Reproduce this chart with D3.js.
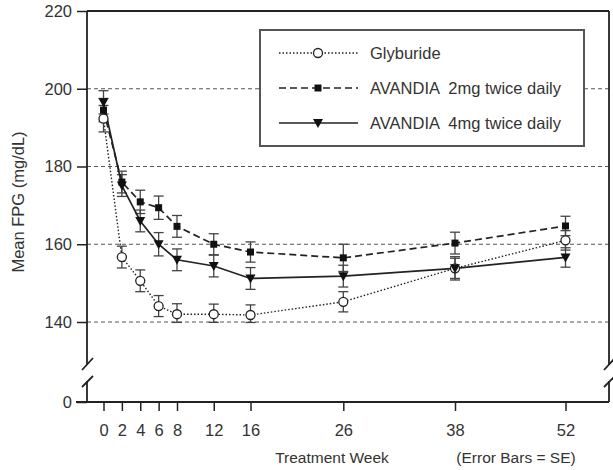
<!DOCTYPE html>
<html>
<head>
<meta charset="utf-8">
<script src="https://cdn.jsdelivr.net/npm/d3@7"></script>
<style>
  body { margin: 0; background: #fff; }
  text { font-family: "Liberation Sans", Arial, sans-serif; fill: #333; }
</style>
</head>
<body>
<svg id="chart" width="613" height="470"></svg>
<script>
// data
var weeks = [0, 2, 4, 6, 8, 12, 16, 26, 38, 52];
var glyburide = [192.3, 156.7, 150.6, 144.1, 142.0, 142.0, 141.8, 145.2, 153.8, 161.0];
var glySE     = [3.4, 2.8, 2.8, 2.7, 2.7, 2.6, 2.6, 2.6, 2.6, 2.5];
var avandia2  = [194.5, 176.0, 170.9, 169.4, 164.6, 160.0, 158.0, 156.5, 160.3, 164.7];
var av2SE     = [3.0, 2.8, 3.0, 3.0, 2.8, 2.7, 2.6, 3.5, 2.8, 2.5];
var avandia4  = [196.5, 175.1, 166.0, 160.0, 156.0, 154.4, 151.2, 151.8, 153.8, 156.6];
var av4SE     = [3.0, 2.8, 2.8, 3.0, 2.8, 2.8, 2.8, 2.8, 3.0, 2.5];
var yTicks = [0, 140, 160, 180, 200, 220];
var gridVals = [140, 160, 180, 200];
var legendNames = ["Glyburide", "AVANDIA  2mg twice daily", "AVANDIA  4mg twice daily"];

var svg = d3.select("#chart");
var plotL = 87, plotR = 609, plotT = 11, plotB = 402;  // "top" is taken by window
var ink = "#222";

// x spacing in the original is not quite uniform, so piecewise
var x = d3.scaleLinear().domain([0, 8, 16, 26, 38, 52]).range([103.5, 177, 250.5, 343.3, 455, 565.5]);
// broken y axis: 0 at the bottom, then 140..220
var y = d3.scaleLinear().domain([0, 140, 220]).range([plotB, 322, plotT]);

var series = [
  {name: legendNames[0], vals: glyburide, se: glySE, dash: "1.5,2", width: 1.4, marker: "circle"},
  {name: legendNames[1], vals: avandia2, se: av2SE, dash: "7,4", width: 1.7, marker: "square"},
  {name: legendNames[2], vals: avandia4, se: av4SE, dash: null, width: 1.7, marker: "tri"}
];

// grid
svg.selectAll("line.grid").data(gridVals).enter().append("line")
  .attr("class", "grid")
  .attr("x1", plotL).attr("x2", plotR)
  .attr("y1", function(d){ return y(d); }).attr("y2", function(d){ return y(d); })
  .attr("stroke", "#555").attr("stroke-width", 1).attr("stroke-dasharray", "4,3");

// axes
var yAxis = d3.axisLeft(y).tickValues(yTicks).tickSize(10).tickPadding(5);
var gy = svg.append("g").attr("transform", "translate(" + plotL + ",0)").call(yAxis);
gy.select(".domain").remove();
gy.selectAll(".tick line").attr("stroke", ink).attr("stroke-width", 1.5);
gy.selectAll(".tick text").style("font-size", "16.5px").attr("fill", "#333");

var xAxis = d3.axisBottom(x).tickValues(weeks).tickSize(9).tickPadding(13);
var gx = svg.append("g").attr("transform", "translate(0," + plotB + ")").call(xAxis);
gx.select(".domain").remove();
gx.selectAll(".tick line").attr("stroke", ink).attr("stroke-width", 1.5);
gx.selectAll(".tick text").style("font-size", "16.5px").attr("fill", "#333");

// frame with breaks
var frame = svg.append("g").attr("stroke", ink).attr("stroke-width", 1.8).attr("fill", "none");
frame.append("line").attr("x1", 76).attr("x2", plotR).attr("y1", plotB).attr("y2", plotB);
frame.append("line").attr("x1", plotL).attr("x2", plotR).attr("y1", plotT).attr("y2", plotT);
[plotL, plotR].forEach(function(px){
  frame.append("line").attr("x1", px).attr("x2", px).attr("y1", plotT).attr("y2", 365);
  frame.append("line").attr("x1", px).attr("x2", px).attr("y1", 381).attr("y2", plotB);
  frame.append("line").attr("x1", px - 5).attr("x2", px + 6).attr("y1", 370).attr("y2", 358);
  frame.append("line").attr("x1", px - 5).attr("x2", px + 6).attr("y1", 387).attr("y2", 376);
});

// error bars
series.forEach(function(s){
  var g = svg.append("g").attr("stroke", "#444").attr("stroke-width", 1.3);
  weeks.forEach(function(w, i){
    var hi = y(s.vals[i] + s.se[i]), lo = y(s.vals[i] - s.se[i]), cx = x(w);
    g.append("line").attr("x1", cx).attr("x2", cx).attr("y1", hi).attr("y2", lo);
    g.append("line").attr("x1", cx - 5).attr("x2", cx + 5).attr("y1", hi).attr("y2", hi);
    g.append("line").attr("x1", cx - 5).attr("x2", cx + 5).attr("y1", lo).attr("y2", lo);
  });
});

// lines
var line = d3.line().x(function(d){ return x(d[0]); }).y(function(d){ return y(d[1]); });
series.forEach(function(s){
  svg.append("path")
    .datum(weeks.map(function(w, i){ return [w, s.vals[i]]; }))
    .attr("d", line).attr("fill", "none")
    .attr("stroke", ink).attr("stroke-width", s.width)
    .attr("stroke-dasharray", s.dash);
});

function drawMarker(g, type, cx, cy){
  if (type === "circle") {
    g.append("circle").attr("cx", cx).attr("cy", cy).attr("r", 4.5)
      .attr("fill", "#fff").attr("stroke", ink).attr("stroke-width", 1.3);
  } else if (type === "square") {
    g.append("rect").attr("x", cx - 3.5).attr("y", cy - 3.5).attr("width", 7).attr("height", 7)
      .attr("fill", "#111");
  } else {
    g.append("path").attr("d", "M" + (cx - 5) + "," + (cy - 4) + "L" + (cx + 5) + "," + (cy - 4) + "L" + cx + "," + (cy + 5) + "Z")
      .attr("fill", "#111");
  }
}

series.forEach(function(s){
  var g = svg.append("g");
  weeks.forEach(function(w, i){ drawMarker(g, s.marker, x(w), y(s.vals[i])); });
});

// legend
var lg = svg.append("g");
lg.append("rect").attr("x", 260).attr("y", 30).attr("width", 324).attr("height", 116)
  .attr("fill", "#fff").attr("stroke", "#555").attr("stroke-width", 2);
series.forEach(function(s, i){
  var ly = 53 + i * 35;
  lg.append("line").attr("x1", 279).attr("x2", 358).attr("y1", ly).attr("y2", ly)
    .attr("stroke", ink).attr("stroke-width", s.width).attr("stroke-dasharray", s.dash);
  drawMarker(lg, s.marker, 318, ly);
  lg.append("text").attr("x", 370).attr("y", ly).attr("dy", "0.35em")
    .style("font-size", "16.5px").style("white-space", "pre").text(s.name);
});

// axis titles
svg.append("text").attr("x", 332).attr("y", 458).attr("dy", "0.35em")
  .attr("text-anchor", "middle").style("font-size", "15.5px").text("Treatment Week");
svg.append("text").attr("x", 516).attr("y", 458).attr("dy", "0.35em")
  .attr("text-anchor", "middle").style("font-size", "15.5px").text("(Error Bars = SE)");
svg.append("text").attr("transform", "translate(18,202) rotate(-90)").attr("dy", "0.35em")
  .attr("text-anchor", "middle").style("font-size", "16.5px").text("Mean FPG (mg/dL)");
</script>
</body>
</html>
